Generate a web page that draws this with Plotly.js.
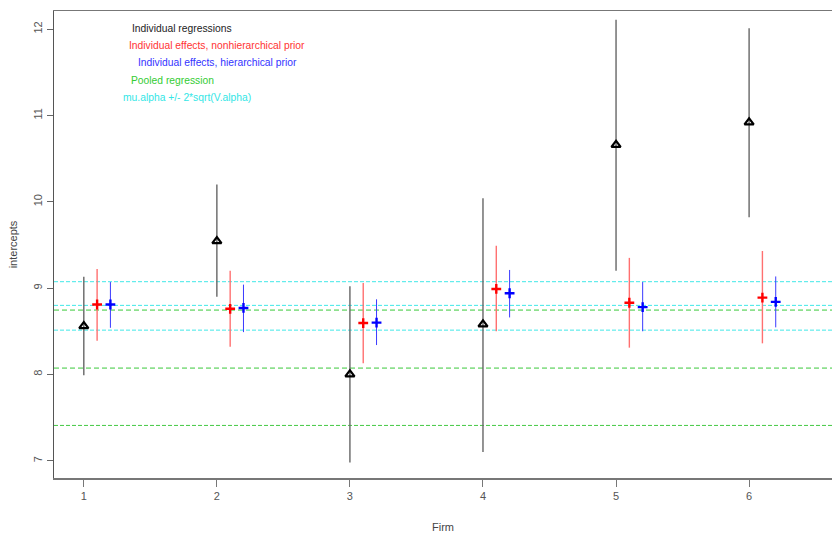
<!DOCTYPE html>
<html>
<head>
<meta charset="utf-8">
<script src="https://cdn.plot.ly/plotly-3.0.1.min.js"></script>
<style>html,body{margin:0;padding:0;background:#fff;}#chart{width:832px;height:535px;}</style>
</head>
<body>
<div id="chart"></div>
<script>
// ---- data ----
var firms = [1, 2, 3, 4, 5, 6];
// Individual regressions (black)
var indivEst  = [8.56, 9.545, 8.00, 8.58, 10.66, 10.92];
var indivLow  = [7.99, 8.90, 6.98, 7.10, 9.20, 9.82];
var indivHigh = [9.13, 10.20, 9.02, 10.04, 12.11, 12.01];
// Individual effects, nonhierarchical prior (red)
var nonhierEst  = [8.81, 8.76, 8.595, 8.99, 8.83, 8.89];
var nonhierLow  = [8.39, 8.32, 8.13, 8.50, 8.31, 8.36];
var nonhierHigh = [9.22, 9.20, 9.06, 9.49, 9.35, 9.43];
// Individual effects, hierarchical prior (blue)
var hierEst  = [8.81, 8.77, 8.60, 8.94, 8.78, 8.84];
var hierLow  = [8.54, 8.49, 8.34, 8.66, 8.50, 8.545];
var hierHigh = [9.07, 9.04, 8.87, 9.21, 9.07, 9.135];
// Horizontal reference lines
var muAlphaLines = [9.074, 8.80, 8.513];          // cyan
var pooledLines  = [8.745, 8.073];                // light green
var pooledLower  = [7.409];                       // green
var legendTexts = ["Individual regressions",
                   "Individual effects, nonhierarchical prior",
                   "Individual effects, hierarchical prior",
                   "Pooled regression",
                   "mu.alpha +/- 2*sqrt(V.alpha)"];
var tickVals = [7, 8, 9, 10, 11, 12];

// ---- helpers ----
function diff(a, b) { return a.map(function (v, i) { return v - b[i]; }); }
function shift(a, d) { return a.map(function (v) { return v + d; }); }

var traces = [
  {
    x: firms, y: indivEst, type: 'scatter', mode: 'markers',
    marker: {symbol: 'triangle-up-open', size: 8, color: '#000', line: {width: 2.2, color: '#000'}},
    error_y: {type: 'data', symmetric: false, array: diff(indivHigh, indivEst), arrayminus: diff(indivEst, indivLow),
              width: 0, thickness: 1.4, color: '#666'}
  },
  {
    x: shift(firms, 0.1), y: nonhierEst, type: 'scatter', mode: 'markers',
    marker: {symbol: 'cross-thin', size: 7, color: '#ff0000', line: {width: 2.4, color: '#ff0000'}},
    error_y: {type: 'data', symmetric: false, array: diff(nonhierHigh, nonhierEst), arrayminus: diff(nonhierEst, nonhierLow),
              width: 0, thickness: 1.4, color: '#ff7070'}
  },
  {
    x: shift(firms, 0.2), y: hierEst, type: 'scatter', mode: 'markers',
    marker: {symbol: 'cross-thin', size: 7, color: '#0000ff', line: {width: 2.4, color: '#0000ff'}},
    error_y: {type: 'data', symmetric: false, array: diff(hierHigh, hierEst), arrayminus: diff(hierEst, hierLow),
              width: 0, thickness: 1, color: '#3a3aff'}
  }
];

var shapes = [];
muAlphaLines.forEach(function (v) {
  shapes.push({type: 'line', xref: 'paper', x0: 0, x1: 1, yref: 'y', y0: v, y1: v, layer: 'below',
               line: {color: '#40e8e8', width: 1, dash: '4px,2px'}});
});
pooledLines.forEach(function (v) {
  shapes.push({type: 'line', xref: 'paper', x0: 0, x1: 1, yref: 'y', y0: v, y1: v, layer: 'below',
               line: {color: '#8ee08e', width: 1.6, dash: '5px,3px'}});
});
pooledLower.forEach(function (v) {
  shapes.push({type: 'line', xref: 'paper', x0: 0, x1: 1, yref: 'y', y0: v, y1: v, layer: 'below',
               line: {color: '#44c844', width: 1, dash: '4px,2px'}});
});

var legColors = ['#222222', '#ff3333', '#3333ff', '#33cc33', '#33e6e6'];
var legLeftPx = [130, 127, 136, 129, 121];
var legYPx = [28.5, 45.5, 62.5, 80, 97.5];
var plotL = 54, plotR = 832, plotT = 11, plotB = 477.7;
var annotations = legendTexts.map(function (t, i) {
  return {text: t, showarrow: false, xref: 'paper', yref: 'paper',
          x: (legLeftPx[i] - plotL) / (plotR - plotL), y: 1 - (legYPx[i] - plotT) / (plotB - plotT),
          xanchor: 'left', yanchor: 'middle',
          font: {family: 'Liberation Sans, Arial, sans-serif', size: 10.3, color: legColors[i]}};
});

var layout = {
  width: 832, height: 535,
  margin: {l: 54, r: 0, t: 11, b: 57.3, pad: 0},
  paper_bgcolor: '#ffffff', plot_bgcolor: '#ffffff',
  showlegend: false,
  font: {family: 'Liberation Sans, Arial, sans-serif', size: 11, color: '#444'},
  xaxis: {
    range: [0.776, 6.623], tickvals: firms, ticktext: firms.map(String),
    showgrid: false, zeroline: false, showline: true, mirror: true,
    linecolor: '#777', linewidth: 1.5,
    ticks: 'outside', ticklen: 7, tickcolor: '#777', tickwidth: 1,
    tickfont: {size: 11, color: '#555'},
    title: {text: 'Firm', font: {size: 11, color: '#444'}, standoff: 22}
  },
  yaxis: {
    range: [6.80, 12.21], tickvals: tickVals, ticktext: tickVals.map(String),
    tickangle: -90,
    showgrid: false, zeroline: false, showline: true, mirror: true,
    linecolor: '#555', linewidth: 1.2,
    ticks: 'outside', ticklen: 6, tickcolor: '#666', tickwidth: 1,
    tickfont: {size: 11, color: '#555'},
    title: {text: 'intercepts', font: {size: 11, color: '#444'}, standoff: 12}
  },
  shapes: shapes,
  annotations: annotations
};

Plotly.newPlot('chart', traces, layout, {displayModeBar: false, staticPlot: true});
</script>
</body>
</html>
